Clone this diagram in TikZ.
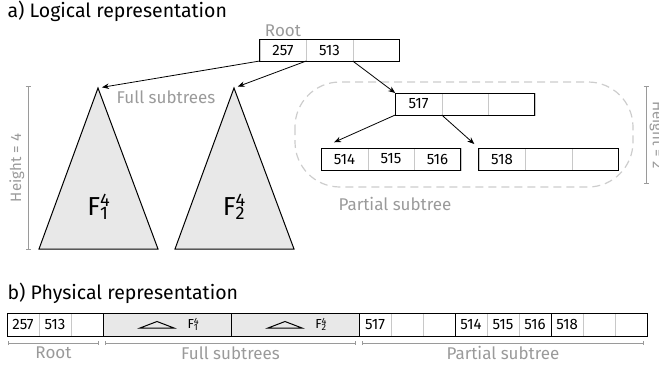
\documentclass[tikz,border=0pt]{standalone}
\usepackage{fontspec}
\setmainfont{Fira Sans}
\usetikzlibrary{positioning}
\usetikzlibrary {arrows.meta}
\definecolor{labelgray}{HTML}{9A9A9A}
\definecolor{cellgray}{HTML}{C8C8C8}
\definecolor{treefill}{HTML}{E8E8E8}
\definecolor{dashgray}{HTML}{CDCDCD}
\newcommand{\fulltree}[1]{F\rlap{\textsuperscript{4}}\textsubscript{#1}}
\tikzset{logcell/.style={rectangle,draw=cellgray,fill=white,outer sep=0pt,
inner sep=0pt,minimum height=22pt, minimum width=46.5pt,font=\fontsize{15}{17}\selectfont}}
\tikzset{physcell/.style={rectangle,draw=cellgray,fill=white,outer sep=0pt,
inner sep=0pt,minimum height=23pt, minimum width=32pt,font=\fontsize{15}{17}\selectfont}}
\tikzset{physfull/.style={physcell,fill=treefill,minimum width=128pt}}
\tikzset{nodeframe/.style={draw=black,line width=1pt}}
\tikzset{treelink/.style={line width=0.8pt,-{Stealth[length=7pt,width=5.5pt]}}}
\tikzset{graylabel/.style={text=labelgray,font=\fontsize{17}{19}\selectfont}}
\tikzset{dimbar/.style={draw=labelgray,line width=0.7pt,{Bar[width=5pt]}-{Bar[width=5pt]}}}

\begin{document}
\begin{tikzpicture}[x=1pt,y=-1pt]
    \useasboundingbox (0,0) rectangle (659,373);

        \node[anchor=west,font=\fontsize{19.5}{21}\selectfont] (titleA) at (4,11) {a) Logical representation};

        % root node
        \node[logcell] (rootA) at (283,50) {257};
        \node[logcell] (rootB) [right=0pt of rootA] {513};
        \node[logcell] (rootC) [right=0pt of rootB] {};
        \draw[nodeframe] (rootA.north west) rectangle (rootC.south east);
        \node[graylabel] (rootlbl) [above=-1pt of rootA] {Root};

        % full subtrees
        \coordinate (treeAtop) at (98,88);
        \coordinate (treeBtop) at (234,88);
        \filldraw[fill=treefill,line width=1pt] (treeAtop) -- (39,249) -- (158,249) -- cycle;
        \filldraw[fill=treefill,line width=1pt] (treeBtop) -- (175,249) -- (294,249) -- cycle;
        \node[font=\fontsize{26}{28}\selectfont] (treeAlbl) at (98,207) {\fulltree{1}};
        \node[font=\fontsize{26}{28}\selectfont] (treeBlbl) at (234,207) {\fulltree{2}};
        \node[graylabel] (fulllbl) at (166,97) {Full subtrees};

        \coordinate (hfourtop) at (28,86);
        \coordinate (hfourbot) at (28,250);
        \draw[dimbar] (hfourbot) -- node[sloped,above=0pt,text=labelgray,font=\fontsize{15}{17}\selectfont] {Height = 4} (hfourtop);

        % partial subtree
        \draw[dashgray,line width=1.2pt,dash pattern=on 8pt off 5pt,rounded corners=45pt] (295,82) rectangle (633,187);
        \node[graylabel] (partlbl) at (395,204) {Partial subtree};

        \node[logcell] (partA) at (418.5,104) {517};
        \node[logcell] (partB) [right=0pt of partA] {};
        \node[logcell] (partC) [right=0pt of partB] {};
        \draw[nodeframe] (partA.north west) rectangle (partC.south east);

        \node[logcell] (leftA) at (344.5,159) {514};
        \node[logcell] (leftB) [right=0pt of leftA] {515};
        \node[logcell] (leftC) [right=0pt of leftB] {516};
        \draw[nodeframe] (leftA.north west) rectangle (leftC.south east);

        \node[logcell] (rightA) at (502,159) {518};
        \node[logcell] (rightB) [right=0pt of rightA] {};
        \node[logcell] (rightC) [right=0pt of rightB] {};
        \draw[nodeframe] (rightA.north west) rectangle (rightC.south east);

        \coordinate (htwotop) at (646,86);
        \coordinate (htwobot) at (646,184);
        \draw[dimbar] (htwotop) -- node[sloped,above=0pt,text=labelgray,font=\fontsize{15}{17}\selectfont] {Height = 2} (htwobot);

        % pointers
        \draw[treelink,shorten >=4pt] (rootA.south west) -- (treeAtop);
        \draw[treelink,shorten >=4pt] (rootB.south west) -- (treeBtop);
        \draw[treelink] (rootC.south west) -- (partA.north west);
        \draw[treelink,shorten >=14pt] (partA.south west) -- (leftA.north west);
        \draw[treelink,shorten >=6pt] (partB.south west) -- (rightA.north west);

        % physical layout
        \node[anchor=west,font=\fontsize{19.5}{21}\selectfont] (titleB) at (4,293) {b) Physical representation};

        \node[physcell] (physA) at (23,324.5) {257};
        \node[physcell] (physB) [right=0pt of physA] {513};
        \node[physcell] (physC) [right=0pt of physB] {};
        \node[physfull] (fullA) [right=0pt of physC] {};
        \node[physfull] (fullB) [right=0pt of fullA] {};
        \node[physcell] (physD) [right=0pt of fullB] {517};
        \node[physcell] (physE) [right=0pt of physD] {};
        \node[physcell] (physF) [right=0pt of physE] {};
        \node[physcell] (physG) [right=0pt of physF] {514};
        \node[physcell] (physH) [right=0pt of physG] {515};
        \node[physcell] (physI) [right=0pt of physH] {516};
        \node[physcell] (physJ) [right=0pt of physI] {518};
        \node[physcell] (physK) [right=0pt of physJ] {};
        \node[physcell] (physL) [right=0pt of physK] {};

        \draw[nodeframe] (physA.north west) rectangle (physC.south east);
        \draw[nodeframe] (fullA.north west) rectangle (fullA.south east);
        \draw[nodeframe] (fullB.north west) rectangle (fullB.south east);
        \draw[nodeframe] (physD.north west) rectangle (physF.south east);
        \draw[nodeframe] (physG.north west) rectangle (physI.south east);
        \draw[nodeframe] (physJ.north west) rectangle (physL.south east);

        \draw[line width=1pt] ([xshift=-27pt,yshift=-3.5pt]fullA.center) -- ([xshift=-10pt,yshift=3pt]fullA.center) -- ([xshift=7pt,yshift=-3.5pt]fullA.center) -- cycle;
        \draw[line width=1pt] ([xshift=-27pt,yshift=-3.5pt]fullB.center) -- ([xshift=-10pt,yshift=3pt]fullB.center) -- ([xshift=7pt,yshift=-3.5pt]fullB.center) -- cycle;
        \node[font=\fontsize{13}{15}\selectfont] (fullAlbl) at ([xshift=26pt]fullA.center) {\fulltree{1}};
        \node[font=\fontsize{13}{15}\selectfont] (fullBlbl) at ([xshift=26pt]fullB.center) {\fulltree{2}};

        % extents
        \coordinate (rootL) at ([xshift=1pt,yshift=-7pt]physA.south west);
        \coordinate (rootR) at ([xshift=-4pt,yshift=-7pt]physC.south east);
        \coordinate (fullL) at ([xshift=2pt,yshift=-7pt]fullA.south west);
        \coordinate (fullR) at ([xshift=-3pt,yshift=-7pt]fullB.south east);
        \coordinate (partL) at ([xshift=3pt,yshift=-7pt]physD.south west);
        \coordinate (partR) at ([xshift=-3pt,yshift=-7pt]physL.south east);
        \draw[dimbar,{Bar[width=4pt]}-{Bar[width=4pt]}] (rootL) -- node[graylabel,below=0pt] {Root} (rootR);
        \draw[dimbar,{Bar[width=4pt]}-{Bar[width=4pt]}] (fullL) -- node[graylabel,below=0pt] {Full subtrees} (fullR);
        \draw[dimbar,{Bar[width=4pt]}-{Bar[width=4pt]}] (partL) -- node[graylabel,below=0pt] {Partial subtree} (partR);

    \end{tikzpicture}
\end{document}
